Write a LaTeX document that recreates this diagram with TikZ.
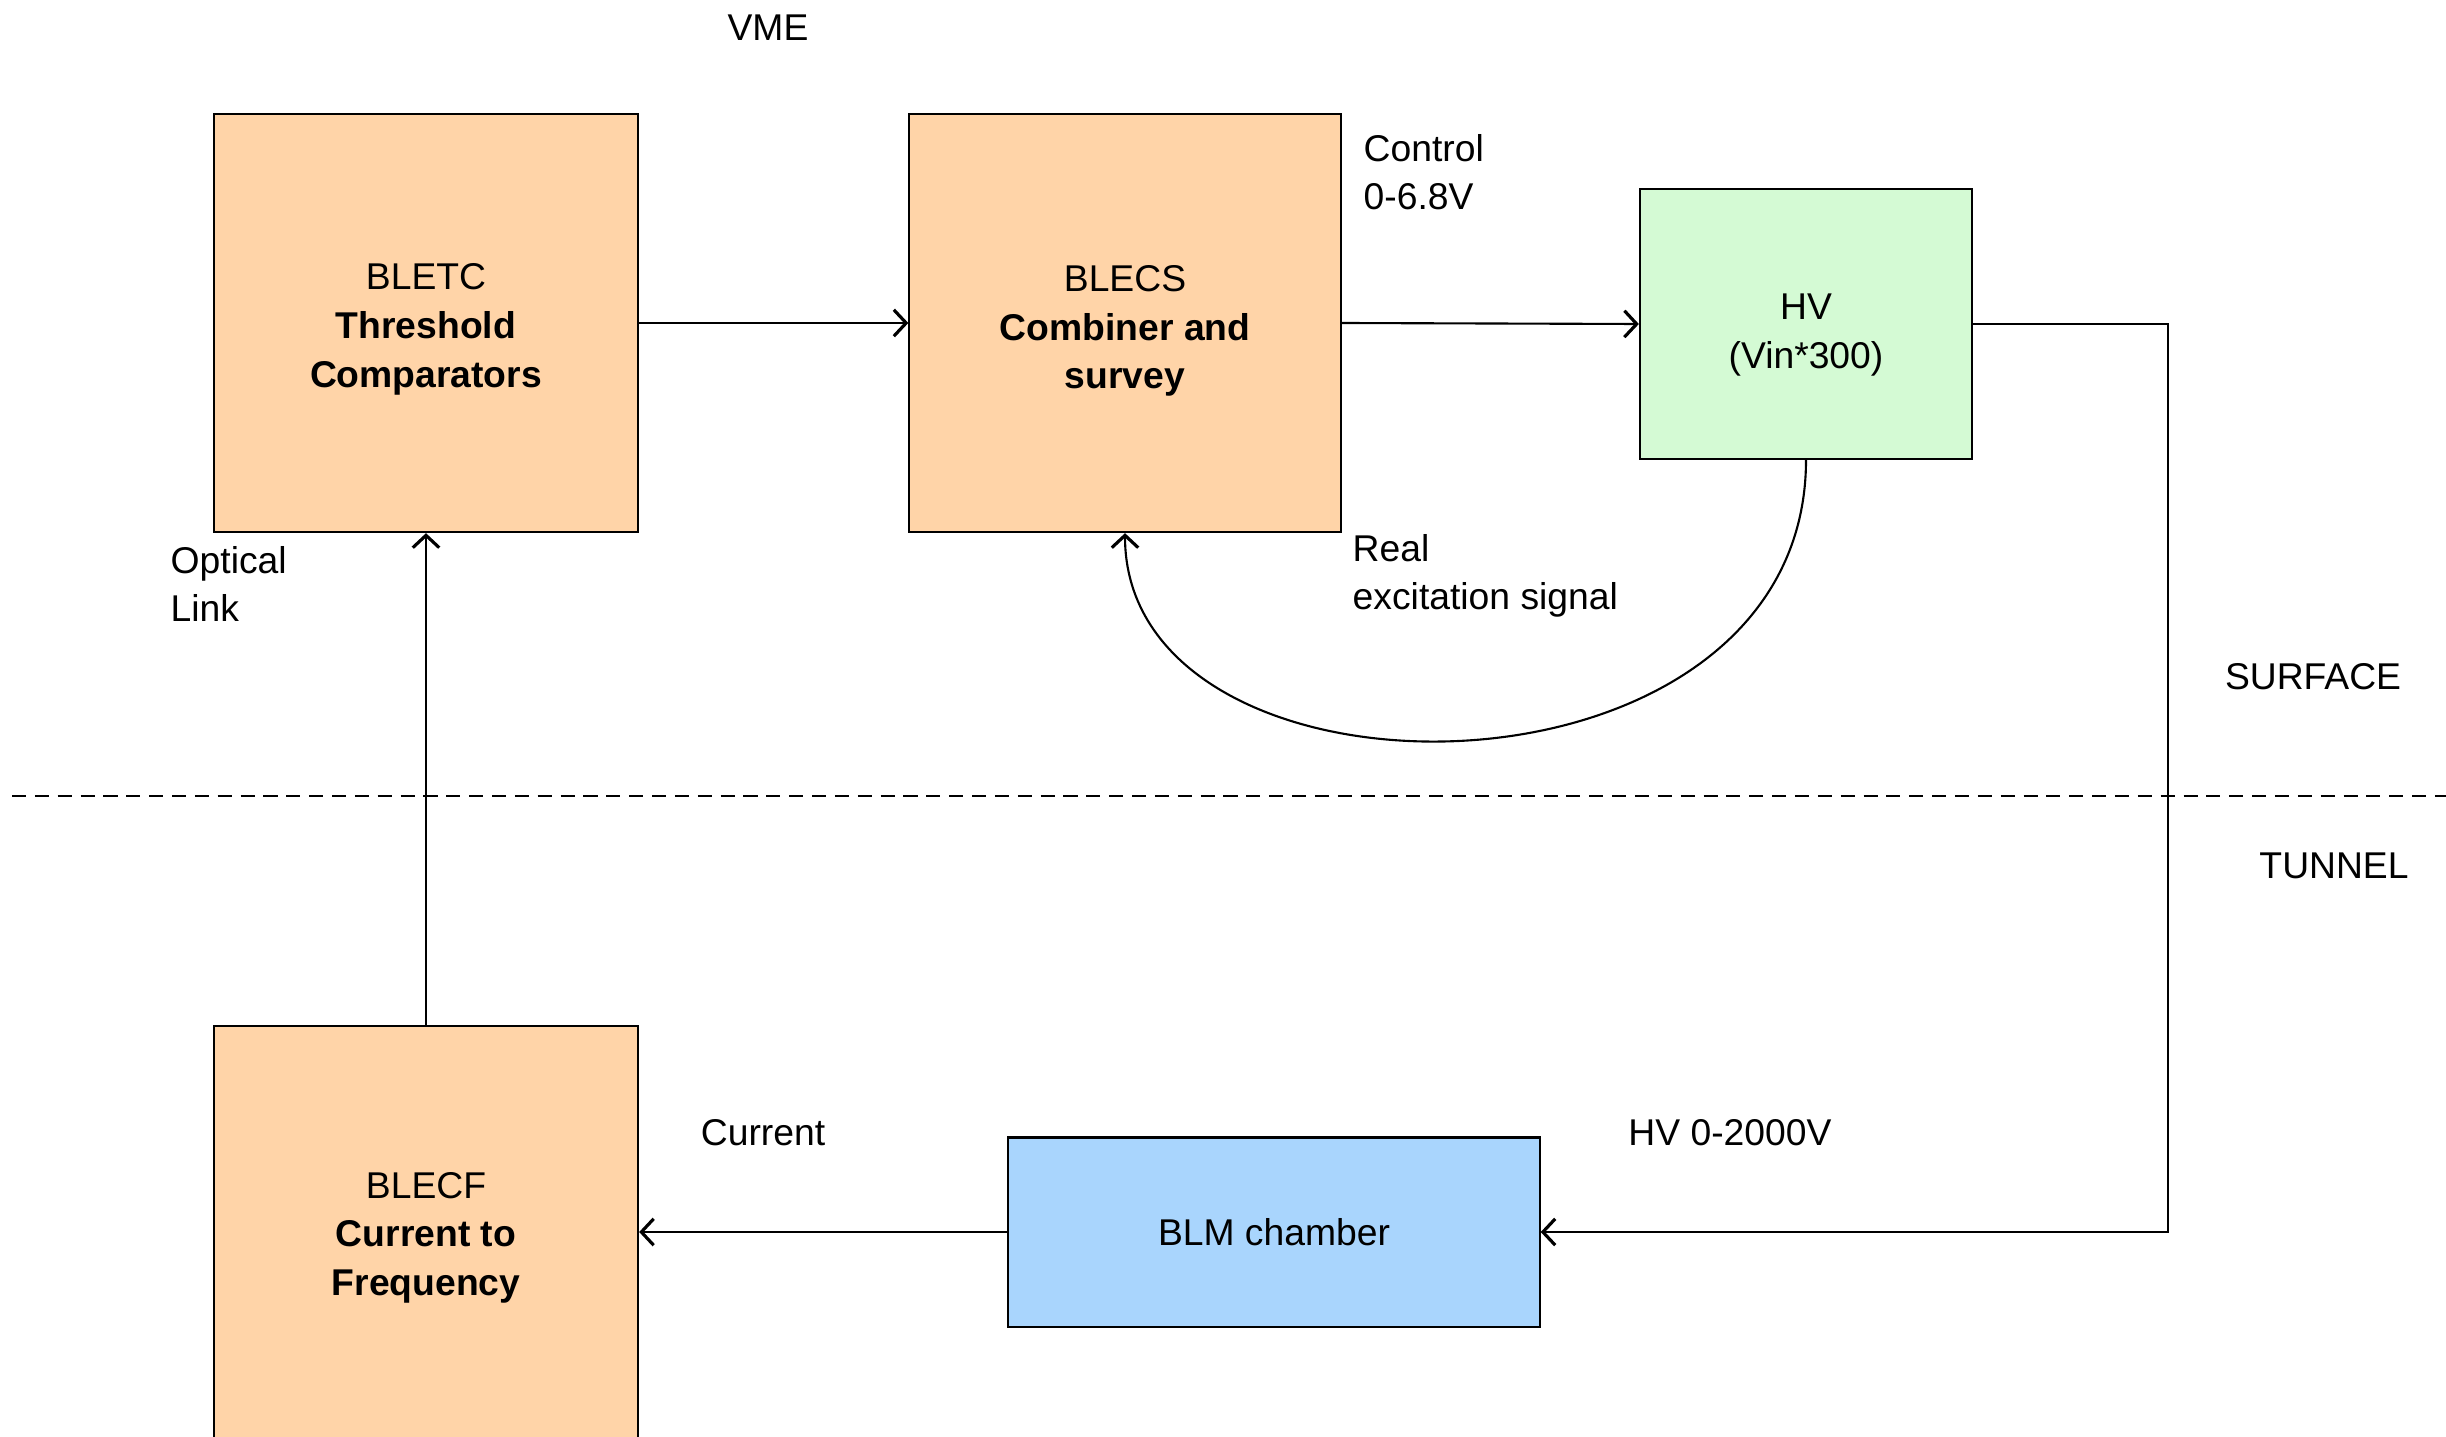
\documentclass[tikz,border=0pt]{standalone}
\usepackage{fontspec}
\setmainfont{Liberation Sans}
\usetikzlibrary{positioning,arrows.meta}
\definecolor{BlockOrange}{RGB}{255,212,168}
\definecolor{SoftGreen}{RGB}{212,250,212}
\definecolor{SoftBlue}{RGB}{169,213,253}
\newcommand{\padtop}[1]{\rule{0pt}{#1}}
\tikzset{
	block/.style={draw=black, line width=.6pt, align=center, inner sep=2pt},
	note/.style={inner sep=0pt, align=left},
	link/.style={-{Straight Barb[length=3.5pt,width=7.5pt,line width=.9pt]}, line width=.6pt}
}

\begin{document}
\begin{tikzpicture}[x=.01cm, y=-.01cm, font=\fontsize{10.6}{13.8}\selectfont]
				
				\useasboundingbox (0,0) rectangle (2446,1437);
				
				\node[
				block,
				fill=BlockOrange,
				minimum width=4.24cm,
				minimum height=4.18cm
				]
				(TC) at (426,323)
				{\padtop{11pt}BLETC\\\textbf{Threshold}\\\textbf{Comparators}};
				
				\node[
				block,
				fill=BlockOrange,
				minimum width=4.31cm,
				minimum height=4.18cm
				]
				(CS) at (1125,323)
				{\padtop{12pt}BLECS\\\textbf{Combiner and}\\\textbf{survey}};
				
				\node[
				block,
				fill=SoftGreen,
				minimum width=3.32cm,
				minimum height=2.69cm
				]
				(HV) at (1806,324)
				{\padtop{13.5pt}HV\\(Vin*300)};
				
				\node[
				block,
				fill=BlockOrange,
				minimum width=4.24cm,
				minimum height=4.18cm
				]
				(CF) at (426,1235)
				{\padtop{9pt}BLECF\\\textbf{Current to}\\\textbf{Frequency}};
				
				\node[
				block,
				fill=SoftBlue,
				minimum width=5.31cm,
				minimum height=1.89cm
				]
				(BLM) at (1274,1232)
				{BLM chamber};
				
				\node[note] (vme) at (768,28) {VME};
				\node[note, anchor=west] (ctrl) at (1363,172) {Control\\0-6.8V};
				\node[note, anchor=west] (exc) at (1352,576) {Real\\excitation signal};
				\node[note, anchor=west] (opt) at (170,584) {Optical\\Link};
				\node[note] (surf) at (2313,677) {SURFACE};
				\node[note] (tun) at (2334,866) {TUNNEL};
				\node[note] (cur) at (763,1133) {Current};
				\node[note] (hvr) at (1730,1133) {HV 0-2000V};
				
				\coordinate (HVturn) at (2168,324);
				\coordinate (sepL) at (12,796);
				\coordinate (sepR) at (2446,796);
				
				\draw[line width=.6pt, dash pattern=on 4pt off 2.5pt] (sepL) -- (sepR);
				
				\draw[link] (TC) -- (CS);
				\draw[link] (CS.east) -- (HV.west);
				\draw[link] (HV.south) .. controls +(0,360) and +(0,290) .. (CS.south);
				\draw[link] (HV.east) -- (HVturn) |- (BLM.east);
				\draw[link] (BLM.west) -- (BLM.west -| CF.east);
				\draw[link] (CF.north) -- (TC.south);
				
			\end{tikzpicture}
\end{document}
